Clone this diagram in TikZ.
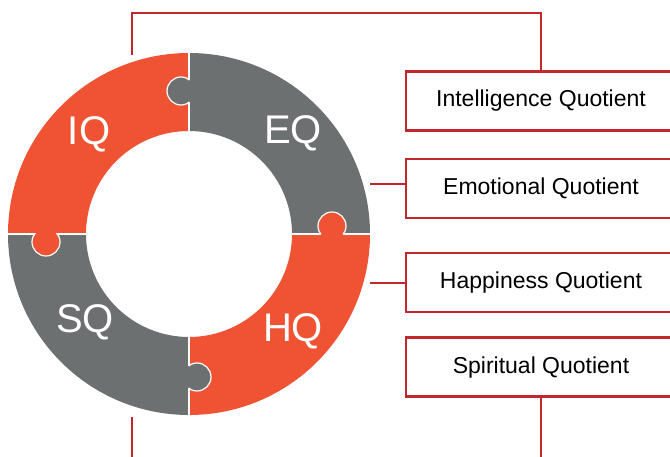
\documentclass[tikz,border=0pt]{standalone}
\usepackage{fontspec}
\setmainfont{Liberation Sans}
\usetikzlibrary{positioning}
\definecolor{ringorange}{RGB}{239,83,51}
\definecolor{ringgray}{RGB}{109,112,112}
\definecolor{linered}{RGB}{193,39,45}

\begin{document}
\begin{tikzpicture}[x=1pt, y=1pt, node distance=26pt,
  quot/.style={draw=linered, line width=2.4pt, minimum width=270pt,
    minimum height=59pt, inner sep=0pt, font=\fontsize{23}{23}\selectfont},
  piece/.style={text=white, font=\fontsize{40}{40}\selectfont},
  link/.style={draw=linered, line width=2.4pt}]
  \useasboundingbox (0,0) rectangle (670,457);
  \clip (0,0) rectangle (670,457);

  % puzzle ring
  \begin{scope}[shift={(189,223)}]
    \fill[ringgray]   (0:181) arc (0:90:181) -- (90:103) arc (90:0:103) -- cycle;
    \fill[ringorange] (90:181) arc (90:180:181) -- (180:103) arc (180:90:103) -- cycle;
    \fill[ringgray]   (180:181) arc (180:270:181) -- (270:103) arc (270:180:103) -- cycle;
    \fill[ringorange] (270:181) arc (270:360:181) -- (360:103) arc (360:270:103) -- cycle;
    \foreach \ang/\col in {90/ringgray, 0/ringorange, 180/ringorange, 270/ringgray}{
      \begin{scope}[rotate=\ang]
        \draw[white, line width=1.2pt] (103,0) -- (181,0);
        \fill[\col] (143,8) circle (14);
        \clip (125,0) rectangle (161,25);
        \draw[white, line width=1.2pt] (143,8) circle (14);
      \end{scope}
    }
  \end{scope}

  \node[piece] (iq) at (89,323) {IQ};
  \node[piece] (eq) at (293,324) {EQ};
  \node[piece] (sq) at (85,135) {SQ};
  \node[piece] (hq) at (293,126) {HQ};

  % quotient boxes
  \node[quot] (iqbox) at (541,356) {Intelligence Quotient};
  \node[quot] (eqbox) [below=26pt of iqbox] {Emotional Quotient};
  \node[quot] (hqbox) [below=33pt of eqbox] {Happiness Quotient};
  \node[quot] (sqbox) [below=23pt of hqbox] {Spiritual Quotient};

  \coordinate (iqend) at (132,402);
  \coordinate (topcorner) at (132,444);
  \coordinate (eqend) at (370,273);
  \coordinate (hqend) at (370,174);
  \coordinate (sqend) at (132,40);
  \coordinate (foot) at (132,-3);

  \draw[link] (iqend) -- (topcorner) -| (iqbox.north);
  \draw[link] (eqend) -- (eqend -| eqbox.west);
  \draw[link] (hqend) -- (hqend -| hqbox.west);
  \draw[link] (sqend) -- (foot);
  \draw[link] (sqbox.south) -- (sqbox.south |- foot);
\end{tikzpicture}
\end{document}
